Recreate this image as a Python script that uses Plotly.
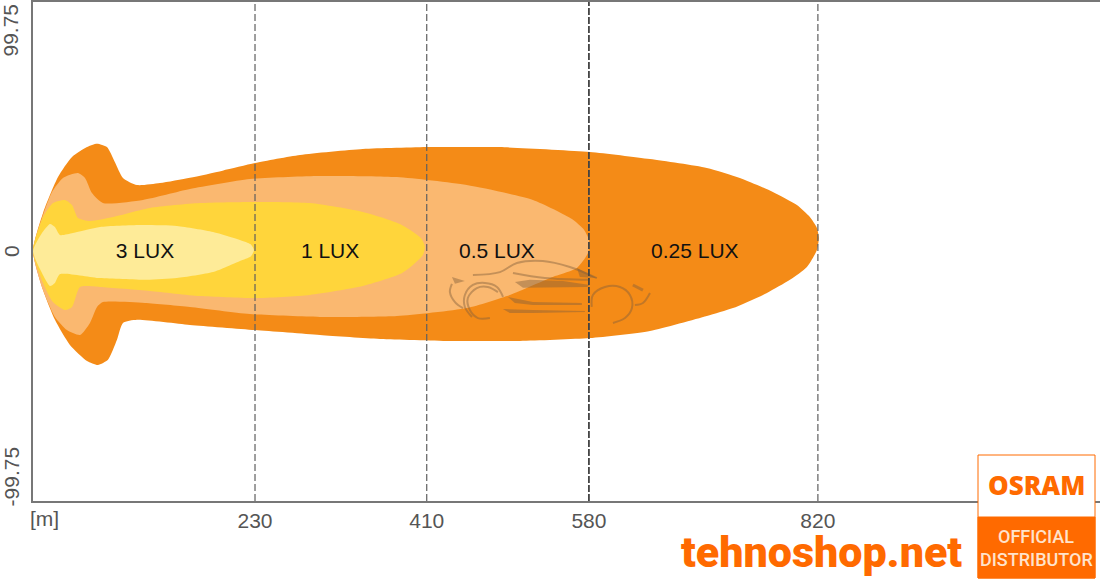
import plotly.graph_objects as go

# ---- data (metres along x, metres across y) ----
tick_x = [230, 410, 580, 820]
tick_y = [99.75, 0, -99.75]
tick_y_text = ["99.75", "0", "-99.75"]
lux_labels = ["0.25 LUX", "0.5 LUX", "1 LUX", "3 LUX"]
label_x = [691, 483.6, 308.7, 114.7]
label_y = [-0.9, -0.9, -0.9, -0.9]
colors = ["#F48B17", "#FAB870", "#FFD53B", "#FEEB98"]

x_025 = [-2.7, 7.8, 23.5, 38.2, 53.9, 64.4, 74.8, 83.2, 91.6, 106.3, 130.4, 161.8, 196, 230, 277.2, 343,
         413.4, 486.7, 581, 644, 703.6, 738.2, 772.8, 798, 811.6, 819, 821, 819, 808.5, 790.7, 766.6, 731, 703.6,
         644, 581, 507.7, 434.3, 361, 298.1, 230, 161.8, 106.3, 91.6, 85.3, 75.9, 65.4, 53.9, 36, 20.3, 7.8, -2.7]
y_025 = [0, 17.1, 33.3, 42.3, 46.8, 48.3, 46.8, 40, 32.9, 29.7, 30.6, 33, 36.2, 39.6, 43.2, 45.9,
         46.8, 46.8, 44.6, 41.4, 37.4, 32.9, 26.6, 20.7, 15.3, 10.4, 5.9, 0.5, -7.2, -13, -18.9, -25.7, -29.3,
         -36, -39.2, -40.5, -40.5, -39.6, -37.8, -35.6, -33.3, -31, -32.4, -40, -49, -51.3, -49.5, -42.3, -31,
         -17.6, 0]

x_05 = [-2.7, 7.8, 17.2, 28.7, 44.4, 51.8, 59.1, 70.6, 112.6, 161.8, 224.7, 298, 378.7, 452, 521.3, 562.2, 575, 580,
        579, 567.5, 544.4, 497.2, 452, 378.7, 298, 224.7, 161.8, 114.6, 70.6, 64.4, 57, 46.6, 32.9, 20.3, 7.8, -2.7]
y_05 = [0, 16.2, 26.6, 32.9, 35.1, 32.9, 26.1, 21.6, 23, 27.9, 32.4, 33.8, 33.3, 29.7, 23, 14.4, 9.5, 5,
        -0.9, -7.6, -11.3, -19.8, -25.7, -29.3, -29.7, -28.4, -25.2, -23.4, -23, -25.2, -32.4, -37.8, -35.6, -29.7,
        -17.6, 0]

x_1 = [-2.7, 7.8, 18.2, 30.8, 38.2, 44.4, 57, 81.1, 119.9, 172.3, 230, 287.5, 343, 381.9, 403.9, 408, 406, 395,
       381.9, 343, 287.5, 230, 172.3, 119.9, 67.5, 46.6, 38.2, 30.8, 18.2, 7.8, -2.7]
y_1 = [0, 15.3, 21.6, 23, 20.7, 14.9, 13.5, 15.3, 19.4, 21.6, 22.1, 21.6, 17.6, 12.2, 5.9, 2, -1.8, -6.5,
       -10.4, -15.8, -19.8, -21.2, -20.3, -18, -16.2, -16.2, -25.2, -26.6, -23, -14.4, 0]

x_3 = [-2.7, 6.7, 15.1, 20.3, 25.6, 39.2, 67.5, 109.4, 148.2, 186, 214.2, 225.5, 228.9, 225.5, 214.2, 186, 148.2,
       116.8, 67.5, 25.6, 20.3, 15.1, 6.7, -2.7]
y_3 = [0, 8.1, 12.2, 10.8, 7.2, 8.1, 10.8, 11.7, 11.3, 8.6, 5, 3, 0.4, -2.5, -4.5, -9.5, -12.2,
       -13, -12.2, -10.4, -14.4, -15.8, -9.9, 0]

# car silhouette strokes
car_lines = [
    ([458.4, 486.7, 504.5, 531.7, 560, 588.3], [-10.8, -9.5, -5.4, -4.5, -7.2, -12.2], 2),
    ([500.4, 533.8, 581], [-9.9, -12.2, -13], 2),
    ([436.4, 434.3, 439.6, 448], [-14.8, -18.5, -23, -25.7], 2),
    ([457.4, 450, 450, 458.4, 471, 483.6, 490], [-29.7, -25.2, -19.8, -15.3, -14.4, -16.2, -20.7], 2),
    ([476.2, 463.6, 455.2, 453.1, 462.5, 474, 484.6], [-30.2, -30.2, -26.6, -21.2, -16.7, -16.2, -18.5], 2),
    ([583, 584.2, 596.8, 612.5, 623, 625.1, 617.8, 605.2], [-25.2, -19.8, -16.2, -16.2, -19.8, -25.7, -30.2, -32.4], 2),
    ([626.1, 636.6], [-15.3, -17.6], 3),
    ([628.2, 636.6, 644], [-24.3, -23.4, -18.9], 2),
]
car_fills = [
    ([502.4, 518.1, 552.9, 581, 578, 531.7, 510.9], [-14, -13, -13.5, -15.3, -16.2, -16.6, -16.6]),
    ([495, 521.3, 572.6, 572.6, 521.3, 502.4], [-20.7, -23, -23.4, -24.3, -24.3, -23.4]),
    ([489.8, 521.3, 575.8, 575.8, 521.3, 497.1], [-26.1, -26.6, -27, -27.5, -27.9, -27.9]),
    ([436.4, 450, 439.6], [-11.7, -13.5, -14.8]),
    ([567.5, 588.3, 570.5], [-7.6, -12.2, -11.7]),
]
car_color = "rgba(130,95,60,0.45)"

# ---- layout constants ----
W, H = 1100, 584
L, R, T, B = 33, 0, 2, 83
AXIS = "#777777"
TEXT = "#555555"
BRAND = "#FF6A00"
y_label_shift = [-1, 0, -4]


def px(v):
    return (v - L) / (W - L - R)


def py(v):
    return (H - B - v) / (H - T - B)


fig = go.Figure()

for xs, ys, c in zip([x_025, x_05, x_1, x_3], [y_025, y_05, y_1, y_3], colors):
    fig.add_trace(go.Scatter(x=xs, y=ys, mode="lines", fill="toself", fillcolor=c,
                             line=dict(color=c, width=0, shape="spline", smoothing=0.6),
                             hoverinfo="skip", showlegend=False))

for xs, ys in car_fills:
    fig.add_trace(go.Scatter(x=xs, y=ys, mode="lines", fill="toself", fillcolor=car_color,
                             line=dict(width=0), hoverinfo="skip", showlegend=False))
for xs, ys, w in car_lines:
    fig.add_trace(go.Scatter(x=xs, y=ys, mode="lines",
                             line=dict(color=car_color, width=w, shape="spline"),
                             hoverinfo="skip", showlegend=False))

fig.add_trace(go.Scatter(x=label_x, y=label_y, mode="text", text=lux_labels,
                         textfont=dict(family="Liberation Sans", size=21, color="#111111"),
                         hoverinfo="skip", showlegend=False))

shapes = []
for v in tick_x:
    dark = v == 580
    shapes.append(dict(type="line", xref="x", yref="paper", x0=v, x1=v, y0=0, y1=1, layer="above",
                       line=dict(color="#444444" if dark else "#5f5f5f", width=1.8 if dark else 1.2,
                                 dash="7px,2px" if dark else "7px,3px")))

# logo box
shapes.append(dict(type="rect", xref="paper", yref="paper", x0=px(978), x1=px(1095), y0=py(578), y1=py(455),
                   fillcolor="white", line=dict(color=BRAND, width=1), layer="above"))
shapes.append(dict(type="rect", xref="paper", yref="paper", x0=px(978), x1=px(1095), y0=py(578), y1=py(517),
                   fillcolor=BRAND, line=dict(color=BRAND, width=1), layer="above"))


def note(text, x, y, size, color, family="Liberation Sans", weight="normal"):
    return dict(text=text, xref="paper", yref="paper", x=px(x), y=py(y),
                xanchor="center", yanchor="middle", showarrow=False,
                font=dict(family=family, size=size, color=color, weight=weight))


annotations = [
    note("[m]", 44, 518, 21, TEXT),
    note("tehnoshop.net", 821, 552, 43, BRAND, family="Roboto", weight=900),
    note("OSRAM", 1036, 485, 26, BRAND, family="Open Sans", weight=800),
    note("OFFICIAL", 1036, 536, 18, "#FFE3CC", family="Roboto", weight=500),
    note("DISTRIBUTOR", 1036, 559, 18, "#FFE3CC", family="Roboto", weight=500),
]
for val, text, shift in zip(tick_y, tick_y_text, y_label_shift):
    annotations.append(dict(text=text, xref="paper", yref="y", x=px(11), y=val, yshift=shift, textangle=-90,
                            xanchor="center", yanchor="middle", showarrow=False,
                            font=dict(family="Liberation Sans", size=21, color=TEXT)))

fig.update_layout(
    width=W, height=H, margin=dict(l=L, r=R, t=T, b=B), paper_bgcolor="white", plot_bgcolor="white",
    shapes=shapes, annotations=annotations, showlegend=False,
    xaxis=dict(range=[-2.7, 1115.7], tickmode="array", tickvals=tick_x, ticktext=[str(v) for v in tick_x],
               showgrid=False, zeroline=False, showline=True, mirror=True, linecolor=AXIS, linewidth=2,
               ticks="", tickfont=dict(family="Liberation Sans", size=21, color=TEXT)),
    yaxis=dict(range=[-112.6, 112.16], tickmode="array", tickvals=tick_y, showticklabels=False,
               showgrid=False, zeroline=False, showline=True, linecolor=AXIS, linewidth=2, ticks=""),
)

fig.write_html("out.html", config=dict(displayModeBar=False),
               post_script="document.body.style.margin='0';")
